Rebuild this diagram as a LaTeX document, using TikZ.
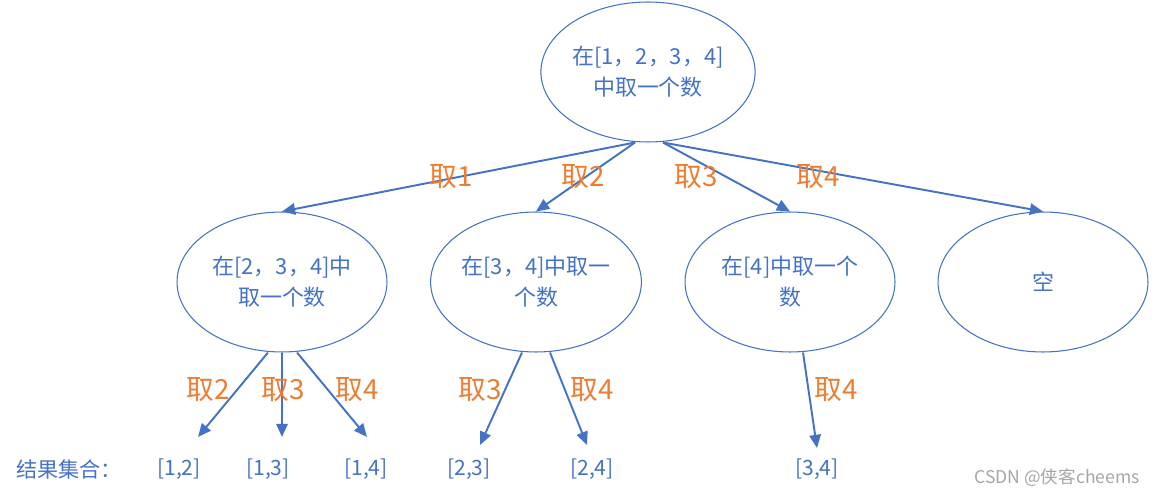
\documentclass[tikz,border=0pt]{standalone}
\usepackage{fontspec}
\setmainfont{Noto Sans CJK SC}
\usetikzlibrary{arrows.meta,shapes.geometric}
\definecolor{lineblue}{HTML}{4472C4}
\definecolor{pickorange}{HTML}{ED7D31}

\begin{document}
\begin{tikzpicture}[
    x=0.02cm, y=-0.02cm,
    state/.style={draw=lineblue, ellipse, line width=0.6pt, minimum width=4.2cm, minimum height=2.8cm, inner sep=0pt, align=center, text=lineblue, font=\fontsize{12.5}{17.5}\selectfont},
    pick/.style={text=pickorange, font=\fontsize{15.8}{18}\selectfont},
    res/.style={text=lineblue, font=\fontsize{12}{14}\selectfont},
    arr/.style={-{Triangle[length=7.5pt,width=6.5pt]}, draw=lineblue, line width=1.1pt}
]
\useasboundingbox (0,0) rectangle (1152,496);

% tree of choices
\node[state] (root) at (648,72) {在[1，2，3，4]\\中取一个数};
\node[state] (pa) at (282,282) {在[2，3，4]中\\取一个数};
\node[state] (pb) at (536,282) {在[3，4]中取一\\个数};
\node[state] (pc) at (790,282) {在[4]中取一个\\数};
\node[state] (pd) at (1043,282) {空};

% result sets
\node[res] (title) at (69,469) {结果集合：};
\node[res] (r12) at (179,469) {[1,2]};
\node[res] (r13) at (268,469) {[1,3]};
\node[res] (r14) at (366,469) {[1,4]};
\node[res] (r23) at (469,469) {[2,3]};
\node[res] (r24) at (592,469) {[2,4]};
\node[res] (r34) at (817,469) {[3,4]};
\coordinate (e12) at (198,437);
\coordinate (e13) at (282,437);
\coordinate (e14) at (367,437);
\coordinate (e23) at (480,445);
\coordinate (e24) at (587,445);
\coordinate (e34) at (817,448);

\draw[arr] ([shift={(-13,0)}]root.south) -- (pa.north);
\draw[arr] ([shift={(-13,0)}]root.south) -- (pb.north);
\draw[arr] ([shift={(15,0)}]root.south) -- (pc.north);
\draw[arr] ([shift={(15,0)}]root.south) -- (pd.north);
\node[pick] (t1) at (451,177) {取1};
\node[pick] (t2) at (583,177) {取2};
\node[pick] (t3) at (696,177) {取3};
\node[pick] (t4) at (818,177) {取4};

\draw[arr] ([shift={(-14,0)}]pa.south) -- (e12);
\draw[arr] (pa.south) -- (e13);
\draw[arr] ([shift={(15,0)}]pa.south) -- (e14);
\draw[arr] ([shift={(-14,0)}]pb.south) -- (e23);
\draw[arr] ([shift={(14,0)}]pb.south) -- (e24);
\draw[arr] ([shift={(13,0)}]pc.south) -- (e34);
\node[pick] (a2) at (208,390) {取2};
\node[pick] (a3) at (283,390) {取3};
\node[pick] (a4) at (357,390) {取4};
\node[pick] (b3) at (480,390) {取3};
\node[pick] (b4) at (592,390) {取4};
\node[pick] (c4) at (836,390) {取4};

\node[text=gray!70, font=\fontsize{10}{12}\selectfont] (mark) at (1057,478) {CSDN @侠客cheems};
\end{tikzpicture}
\end{document}
